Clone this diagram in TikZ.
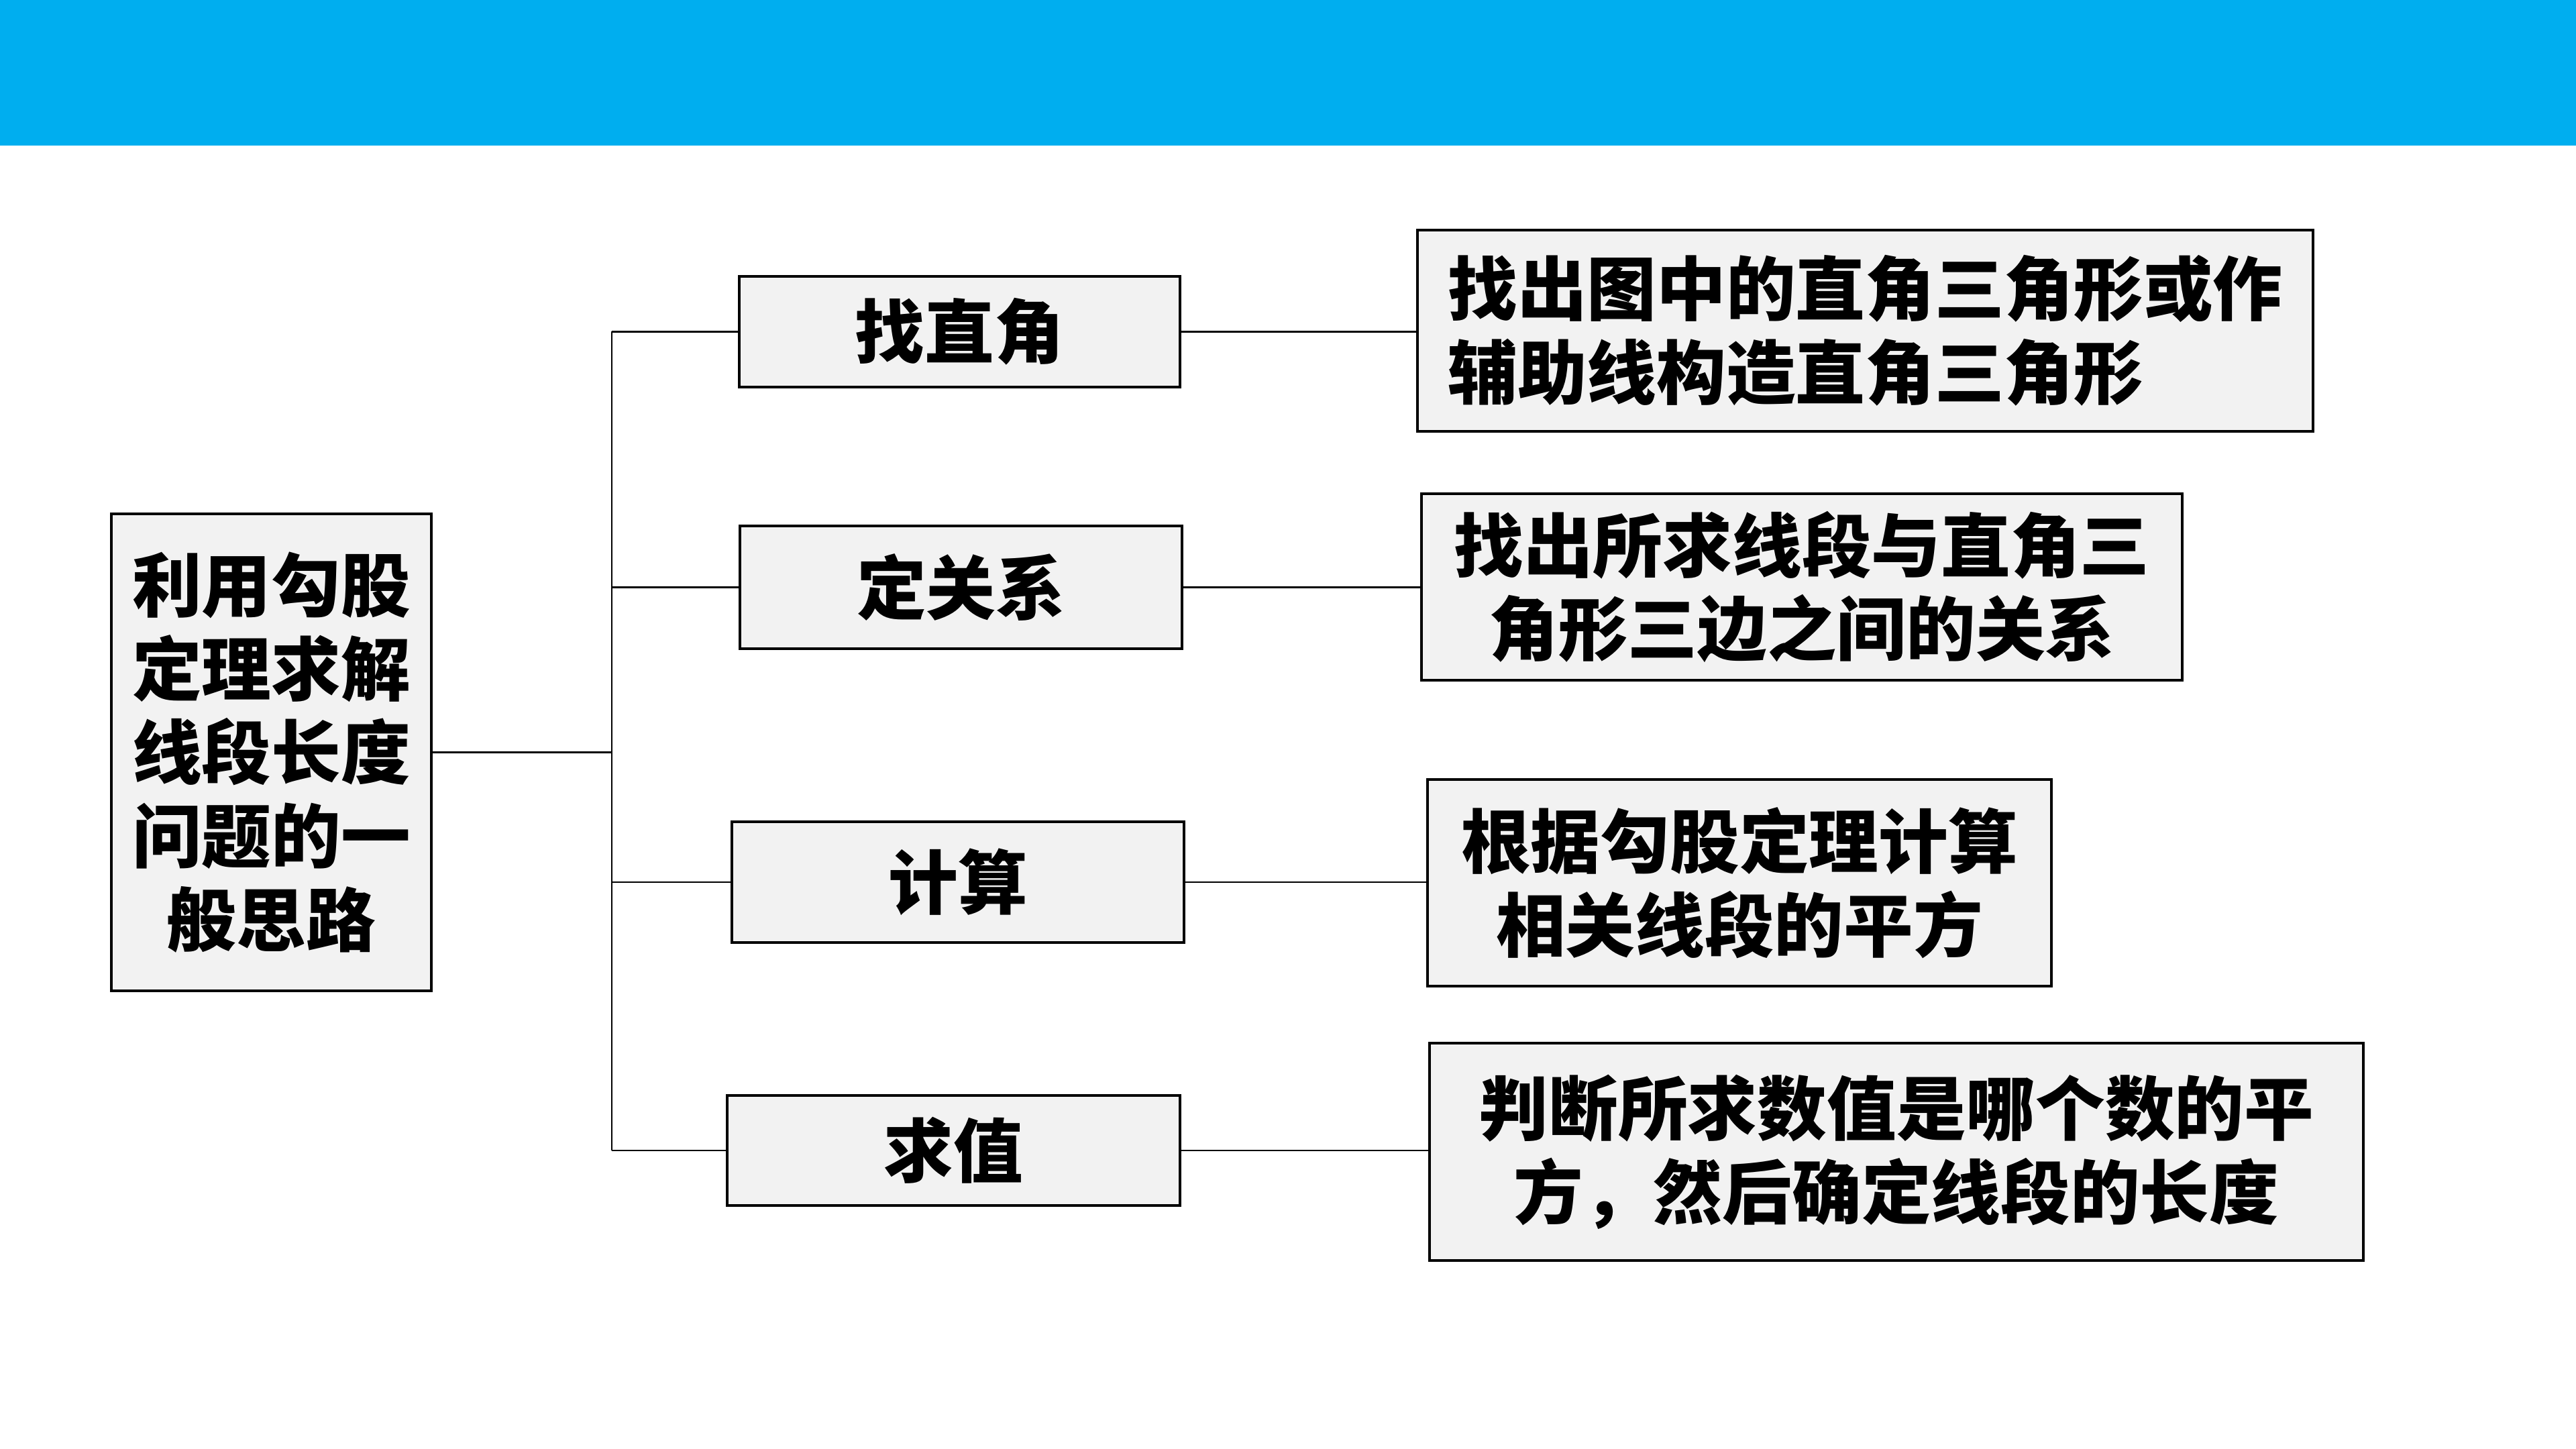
\documentclass[tikz,border=0pt]{standalone}
\usepackage{fontspec}
\setmainfont{Noto Sans CJK SC}
\definecolor{banner}{HTML}{00AEEF}
\definecolor{boxgray}{HTML}{F2F2F2}

\begin{document}
\begin{tikzpicture}[
    box/.style={draw, fill=boxgray, line width=0.9pt, inner sep=0pt, font=\fontsize{29.5}{35.5}\selectfont\bfseries},
    link/.style={line width=0.8pt}
]
\useasboundingbox (0,0) rectangle (38.4,21.6);
% Top banner
\fill[banner] (0,19.43) rectangle (38.4,21.6);

% Root box
\node[box, minimum width=4.77cm, minimum height=7.11cm, align=center] (root) at (4.045, 10.385) {利用勾股\\定理求解\\线段长度\\问题的一\\般思路};

% Steps
\node[box, minimum width=6.57cm, minimum height=1.65cm] (s1) at (14.305, 16.655) {找直角};
\node[box, minimum width=6.59cm, minimum height=1.83cm] (s2) at (14.325, 12.845) {定关系};
\node[box, minimum width=6.74cm, minimum height=1.80cm] (s3) at (14.28, 8.45) {计算};
\node[box, minimum width=6.75cm, minimum height=1.64cm] (s4) at (14.215, 4.45) {求值};

% Notes
\node[box, minimum width=13.35cm, minimum height=3cm, align=left] (n1) at (27.805, 16.67) {找出图中的直角三角形或作\\辅助线构造直角三角形};
\node[box, minimum width=11.34cm, minimum height=2.78cm, align=center] (n2) at (26.86, 12.85) {找出所求线段与直角三\\角形三边之间的关系};
\node[box, minimum width=9.30cm, minimum height=3.08cm, align=center] (n3) at (25.93, 8.44) {根据勾股定理计算\\相关线段的平方};
\node[box, minimum width=13.92cm, minimum height=3.24cm, align=center] (n4) at (28.27, 4.43) {判断所求数值是哪个数的平\\方，然后确定线段的长度};

% Branches
\coordinate (top) at (9.12, 16.655);
\coordinate (bot) at (9.12, 4.45);
\draw[link] (top) -- (bot);
\draw[link] (root.east) -- (root.east -| top);
\foreach \i in {1,...,4} {
  \draw[link] (s\i.west -| top) -- (s\i.west);
  \draw[link] (s\i.east) -- (s\i.east -| n\i.west);
}
\end{tikzpicture}
\end{document}
